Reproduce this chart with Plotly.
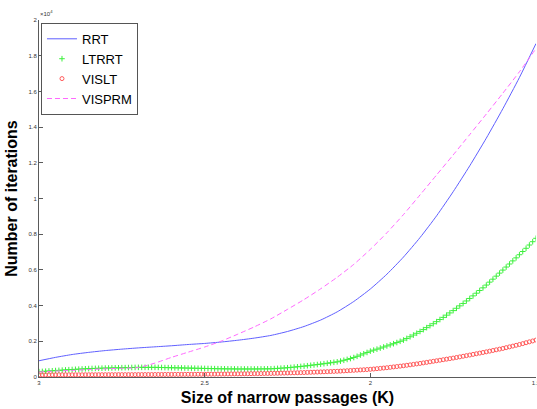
import numpy as np
import plotly.graph_objects as go

# Narrow-passage size K, sampled every 0.05 (line series) and every 0.01 (marker series)
k_coarse = np.linspace(3.0, 1.5, 31)
k_fine = np.linspace(3.0, 1.5, 151)

rrt = [910, 1100, 1260, 1380, 1480, 1560, 1630, 1690, 1750, 1820,
       1880, 1960, 2060, 2180, 2330, 2550, 2830, 3190, 3650, 4230,
       4930, 5760, 6720, 7810, 9030, 10380, 11830, 13380, 15030, 16780,
       18680]

visprm = [280, 330, 370, 420, 460, 490, 530, 780, 1100, 1390,
          1680, 2010, 2400, 2810, 3260, 3790, 4340, 4940, 5590, 6310,
          7150, 8080, 9100, 10200, 11320, 12440, 13580, 14730, 15900, 17100,
          18400]

ltrrt = [300, 312, 324, 336, 348, 360, 372, 384, 396, 408,
         420, 430, 440, 450, 460, 470, 476, 482, 488, 494,
         500, 504, 508, 512, 516, 520, 524, 528, 532, 536,
         540, 540, 540, 540, 540, 540, 536, 532, 528, 524,
         520, 516, 512, 508, 504, 500, 496, 492, 488, 484,
         480, 476, 472, 468, 464, 460, 458, 456, 454, 452,
         450, 450, 450, 450, 450, 450, 452, 454, 456, 458,
         460, 470, 482, 494, 507, 520, 537, 554, 572, 591,
         610, 632, 654, 676, 698, 720, 745, 770, 796, 823,
         850, 890, 935, 985, 1035, 1090, 1160, 1230, 1300, 1375,
         1450, 1505, 1560, 1620, 1680, 1740, 1800, 1865, 1930, 2000,
         2070, 2160, 2255, 2350, 2450, 2550, 2655, 2765, 2875, 2985,
         3100, 3220, 3340, 3465, 3590, 3720, 3850, 3985, 4120, 4260,
         4400, 4545, 4695, 4845, 4995, 5150, 5315, 5480, 5650, 5820,
         5990, 6160, 6330, 6505, 6675, 6850, 7030, 7210, 7395, 7580,
         7770]

vislt = [120, 120, 121, 121, 122, 122, 123, 123, 124, 124,
         125, 125, 126, 126, 127, 127, 128, 128, 129, 129,
         130, 130, 131, 131, 132, 132, 133, 133, 134, 134,
         135, 136, 137, 138, 139, 140, 141, 142, 143, 144,
         145, 146, 147, 148, 149, 150, 151, 152, 153, 154,
         155, 157, 159, 161, 163, 165, 167, 169, 171, 173,
         175, 177, 180, 182, 185, 187, 190, 192, 195, 197,
         200, 205, 210, 215, 220, 225, 230, 235, 240, 245,
         250, 257, 264, 271, 278, 285, 292, 299, 306, 313,
         320, 330, 341, 352, 363, 374, 385, 396, 407, 418,
         430, 448, 466, 484, 502, 520, 542, 564, 586, 608,
         630, 656, 682, 708, 734, 760, 790, 820, 850, 880,
         910, 940, 970, 1000, 1030, 1060, 1094, 1128, 1162, 1196,
         1230, 1266, 1302, 1338, 1374, 1410, 1448, 1486, 1524, 1562,
         1600, 1644, 1688, 1732, 1776, 1820, 1870, 1920, 1970, 2020,
         2070]

x_ticks = [3, 2.5, 2, 1.5]
x_ticktext = ["3", "2.5", "2", "1.5"]
y_ticks = list(range(0, 20001, 2000))
y_ticktext = ["0", "0.2", "0.4", "0.6", "0.8", "1", "1.2", "1.4", "1.6", "1.8", "2"]

FONT = "Liberation Sans, Arial, Helvetica, sans-serif"
AXIS_GRAY = "#5a5a5a"

fig = go.Figure()
fig.add_trace(go.Scatter(
    x=k_coarse, y=rrt, name="RRT", mode="lines",
    line=dict(color="rgb(95,95,255)", width=1, shape="spline", smoothing=0.6)))
fig.add_trace(go.Scatter(
    x=k_fine, y=ltrrt, name="LTRRT", mode="markers",
    marker=dict(symbol="cross-thin", size=4, color="rgba(0,0,0,0)",
                line=dict(color="rgb(60,240,60)", width=1))))
fig.add_trace(go.Scatter(
    x=k_fine, y=vislt, name="VISLT", mode="markers",
    marker=dict(symbol="circle-open", size=4, color="rgb(255,90,90)",
                line=dict(color="rgb(255,90,90)", width=1))))
fig.add_trace(go.Scatter(
    x=k_coarse, y=visprm, name="VISPRM", mode="lines",
    line=dict(color="rgb(255,105,255)", width=1, dash="5px,3px",
              shape="spline", smoothing=0.6)))

fig.update_layout(
    width=537, height=409,
    margin=dict(l=39, r=1, t=20, b=32, autoexpand=False),
    paper_bgcolor="white", plot_bgcolor="white",
    font=dict(family=FONT, color="#222"),
    showlegend=True,
    legend=dict(
        x=0.004, y=0.992, xanchor="left", yanchor="top",
        bgcolor="white", bordercolor="#555", borderwidth=1,
        font=dict(family=FONT, size=13, color="black"),
        itemwidth=30, tracegroupgap=0),
    xaxis=dict(
        range=[3, 1.5], tickvals=x_ticks, ticktext=x_ticktext,
        ticks="inside", ticklen=4, tickcolor=AXIS_GRAY,
        showline=True, linecolor=AXIS_GRAY, linewidth=1,
        showgrid=False, zeroline=False, automargin=False,
        ticklabeloverflow="allow",
        tickfont=dict(size=6, color="#333"),
        title=dict(text="<b>Size of narrow passages (K)</b>",
                   font=dict(family=FONT, size=16, color="black"),
                   standoff=6)),
    yaxis=dict(
        range=[0, 20000], tickvals=y_ticks, ticktext=y_ticktext,
        ticks="inside", ticklen=4, tickcolor=AXIS_GRAY,
        showline=True, linecolor=AXIS_GRAY, linewidth=1,
        showgrid=False, zeroline=False, automargin=False,
        ticklabeloverflow="allow",
        tickfont=dict(size=6, color="#333"),
        title=dict(text="<b>Number of iterations</b>",
                   font=dict(family=FONT, size=16, color="black"),
                   standoff=6)),
    annotations=[dict(
        xref="paper", yref="paper", x=-0.003, y=1.0,
        xanchor="left", yanchor="bottom", yshift=1,
        text="×10<sup>4</sup>", showarrow=False,
        font=dict(family=FONT, size=6, color="#333"))],
)

fig.write_html("out.html")
